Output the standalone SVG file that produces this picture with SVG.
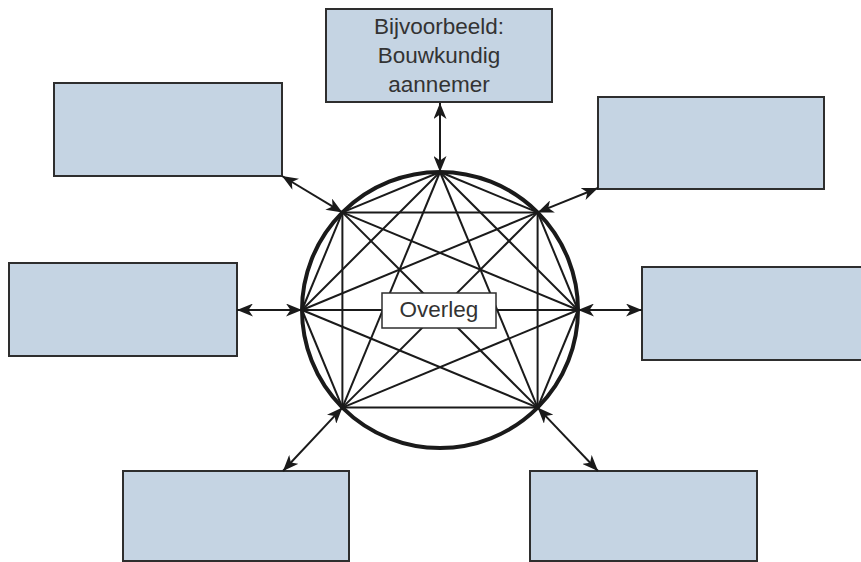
<svg xmlns="http://www.w3.org/2000/svg" width="861" height="562" viewBox="0 0 861 562">
  <style>
    .box { fill: #c5d4e3; stroke: #2e2e2e; stroke-width: 2; }
    .lbl { font-family: "Liberation Sans", Arial, sans-serif; font-size: 22.5px; fill: #333333; text-anchor: middle; }
    .mesh line { stroke: #1a1a1a; stroke-width: 2; }
    .conn line { stroke: #1a1a1a; stroke-width: 2; marker-start: url(#arr); marker-end: url(#arr); }
  </style>
  <defs>
    <marker id="arr" viewBox="0 0 16 13" refX="16" refY="6.5" markerWidth="16" markerHeight="13" markerUnits="userSpaceOnUse" orient="auto-start-reverse">
      <path d="M0,0 L16,6.5 L0,13 L4.5,6.5 z" fill="#1a1a1a"/>
    </marker>
  </defs>
  <rect width="861" height="562" fill="#ffffff"/>

  <g id="node-top">
    <rect class="box" x="326" y="9" width="226" height="93"/>
    <text class="lbl" x="439" y="34">Bijvoorbeeld:</text>
    <text class="lbl" x="439" y="63">Bouwkundig</text>
    <text class="lbl" x="439" y="92">aannemer</text>
  </g>
  <g id="node-top-left"><rect class="box" x="54" y="83" width="228" height="93"/></g>
  <g id="node-top-right"><rect class="box" x="598" y="97" width="226" height="92"/></g>
  <g id="node-left"><rect class="box" x="9" y="263" width="228" height="93"/></g>
  <g id="node-right"><rect class="box" x="642" y="267" width="220" height="93"/></g>
  <g id="node-bottom-left"><rect class="box" x="123" y="471" width="226" height="90"/></g>
  <g id="node-bottom-right"><rect class="box" x="530" y="471" width="227" height="90"/></g>

  <g id="overleg">
    <g class="mesh">
      <line x1="440" y1="172" x2="342.4" y2="212.4"/>
      <line x1="440" y1="172" x2="537.6" y2="212.4"/>
      <line x1="440" y1="172" x2="302" y2="310"/>
      <line x1="440" y1="172" x2="578" y2="310"/>
      <line x1="440" y1="172" x2="342.4" y2="407.6"/>
      <line x1="440" y1="172" x2="537.6" y2="407.6"/>
      <line x1="342.4" y1="212.4" x2="537.6" y2="212.4"/>
      <line x1="342.4" y1="212.4" x2="302" y2="310"/>
      <line x1="342.4" y1="212.4" x2="578" y2="310"/>
      <line x1="342.4" y1="212.4" x2="342.4" y2="407.6"/>
      <line x1="342.4" y1="212.4" x2="537.6" y2="407.6"/>
      <line x1="537.6" y1="212.4" x2="302" y2="310"/>
      <line x1="537.6" y1="212.4" x2="578" y2="310"/>
      <line x1="537.6" y1="212.4" x2="342.4" y2="407.6"/>
      <line x1="537.6" y1="212.4" x2="537.6" y2="407.6"/>
      <line x1="302" y1="310" x2="578" y2="310"/>
      <line x1="302" y1="310" x2="342.4" y2="407.6"/>
      <line x1="302" y1="310" x2="537.6" y2="407.6"/>
      <line x1="578" y1="310" x2="342.4" y2="407.6"/>
      <line x1="578" y1="310" x2="537.6" y2="407.6"/>
      <line x1="342.4" y1="407.6" x2="537.6" y2="407.6"/>
    </g>
    <circle cx="440" cy="310" r="138" fill="none" stroke="#1a1a1a" stroke-width="4"/>
    <rect x="382" y="293" width="114" height="35" fill="#ffffff" stroke="#2e2e2e" stroke-width="1.5"/>
    <text class="lbl" x="439" y="317">Overleg</text>
  </g>

  <g id="connectors" class="conn">
    <line x1="440" y1="103" x2="440" y2="172"/>
    <line x1="282" y1="176" x2="342.4" y2="212.4"/>
    <line x1="537.6" y1="212.4" x2="598" y2="188"/>
    <line x1="237" y1="310" x2="302" y2="310"/>
    <line x1="578" y1="310" x2="642" y2="310"/>
    <line x1="342.4" y1="407.6" x2="283" y2="471"/>
    <line x1="537.6" y1="407.6" x2="598" y2="471"/>
  </g>
</svg>
